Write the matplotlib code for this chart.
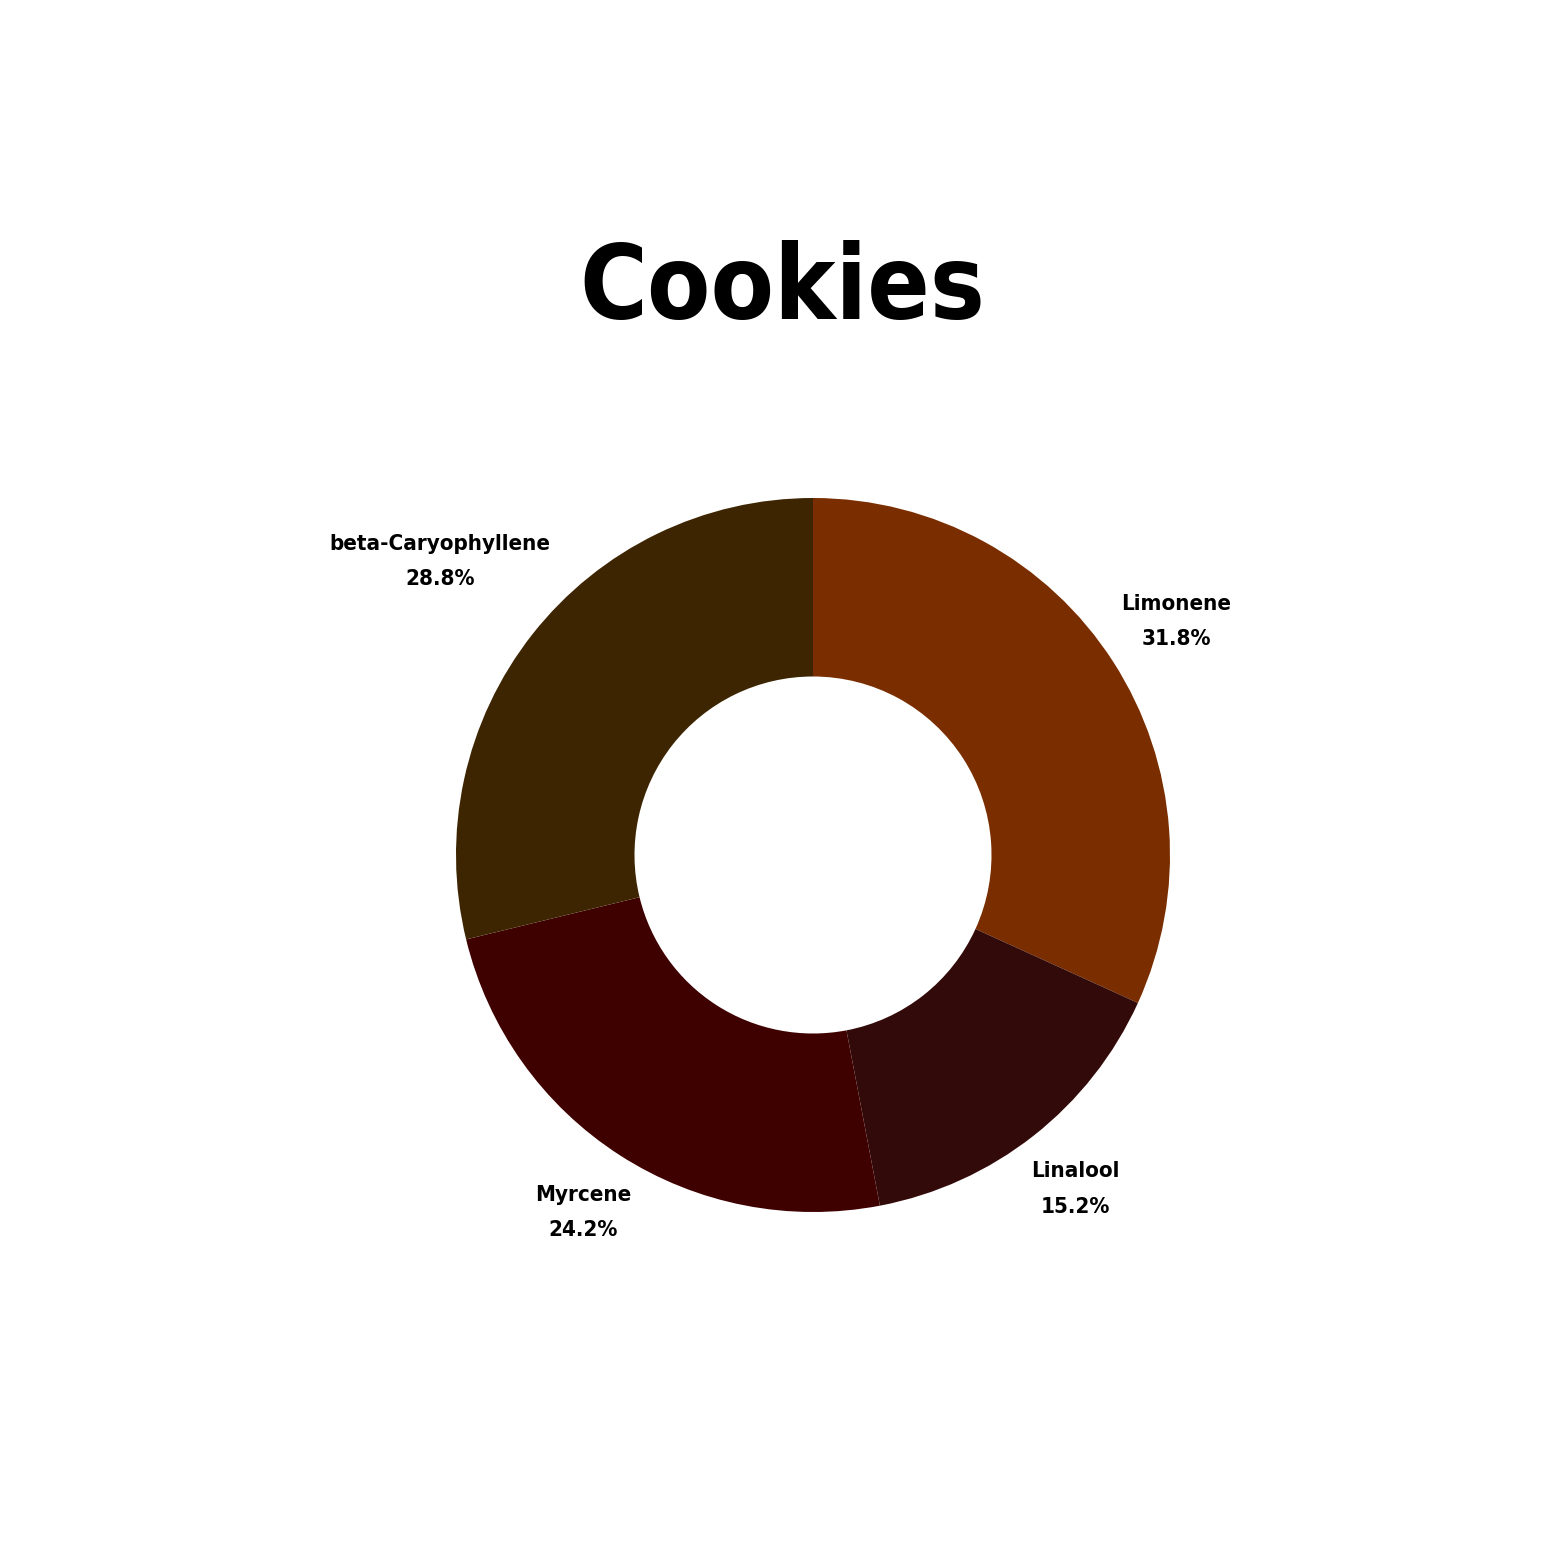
import matplotlib
matplotlib.use("Agg")
import matplotlib.pyplot as plt
import numpy as np

labels = ["Limonene", "Linalool", "Myrcene", "beta-Caryophyllene"]
values = [31.8, 15.2, 24.2, 28.8]
colors = ["#7a2e00", "#330a0a", "#3f0000", "#3d2502"]
title = "Cookies"

W = 1563
fig = plt.figure(figsize=(15.63, 15.63), dpi=100)
R = 357.0
cx, cy = 813.0, 855.0
lim = 1.25
s = 2 * lim * R / W
ax = fig.add_axes([cx / W - s / 2, 1 - cy / W - s / 2, s, s])

font = dict(family="DejaVu Sans", fontstretch="condensed", fontweight="bold")

texts = [f"{l}\n{v:.1f}%" for l, v in zip(labels, values)]
wedges, txts = ax.pie(values, colors=colors, startangle=90, counterclock=False,
                      radius=1.0, labels=texts, labeldistance=1.2,
                      wedgeprops=dict(width=0.5, linewidth=0),
                      textprops=dict(fontsize=16, ha="center", va="center",
                                     linespacing=1.95, **font))
label_r = [1.21, 1.19, 1.19, 1.33]
for w, t, r in zip(wedges, txts, label_r):
    ang = np.deg2rad((w.theta1 + w.theta2) / 2)
    t.set_position((r * np.cos(ang), r * np.sin(ang)))
    t.set_ha("center")

ax.set_xlim(-lim, lim)
ax.set_ylim(-lim, lim)
ax.set_aspect("equal")
ax.axis("off")

fig.text(782 / W, 1 - 291 / W, title, ha="center", va="center",
         fontsize=74, color="black", family="DejaVu Sans",
         fontstretch="condensed", fontweight="heavy")

fig.savefig("out.png", dpi=100, facecolor="white")
